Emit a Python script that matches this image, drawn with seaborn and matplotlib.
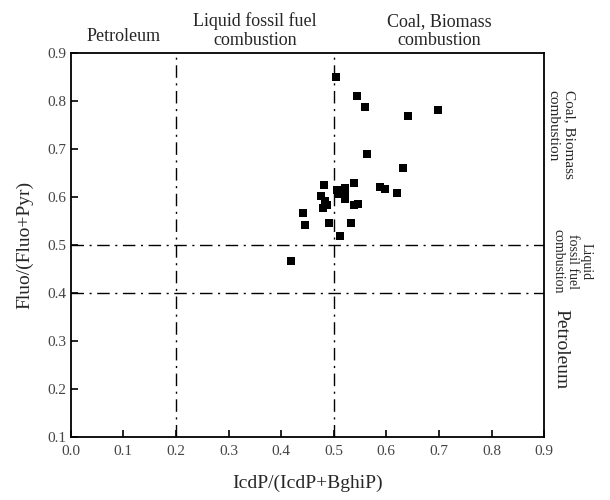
import pandas as pd
import matplotlib.pyplot as plt
import seaborn as sns

icdp_ratio = [0.505, 0.545, 0.560, 0.641, 0.698, 0.564, 0.631, 0.482, 0.538, 0.522,
              0.507, 0.588, 0.597, 0.620, 0.475, 0.508, 0.522, 0.521, 0.484, 0.488,
              0.479, 0.546, 0.538, 0.441, 0.446, 0.491, 0.532, 0.511, 0.419]
fluo_ratio = [0.848, 0.809, 0.787, 0.768, 0.780, 0.689, 0.660, 0.625, 0.629, 0.619,
              0.614, 0.621, 0.616, 0.608, 0.602, 0.605, 0.605, 0.596, 0.592, 0.583,
              0.576, 0.585, 0.583, 0.567, 0.541, 0.545, 0.546, 0.519, 0.466]

x_lines = [0.2, 0.5]
y_lines = [0.4, 0.5]
ticks = [0.0, 0.1, 0.2, 0.3, 0.4, 0.5, 0.6, 0.7, 0.8, 0.9]
yticks = [0.1, 0.2, 0.3, 0.4, 0.5, 0.6, 0.7, 0.8, 0.9]

df = pd.DataFrame({'IcdP': icdp_ratio, 'Fluo': fluo_ratio})

sns.set_style('ticks')
plt.rcParams['font.family'] = ['Liberation Serif', 'DejaVu Serif']

fig = plt.figure(figsize=(6.1, 5), dpi=100)
ax = fig.add_axes([0.116, 0.126, 0.776, 0.769])

dash = (0, (9, 4, 1.5, 4))
for xv in x_lines:
    ax.axvline(xv, color='black', lw=1, ls=dash, zorder=1)
for yv in y_lines:
    ax.axhline(yv, color='black', lw=1, ls=dash, zorder=1)

sns.scatterplot(data=df, x='IcdP', y='Fluo', marker='s', s=40, color='black',
                edgecolor='black', linewidth=0, ax=ax, zorder=3)

ax.set_xlim(0, 0.9)
ax.set_ylim(0.1, 0.9)
ax.set_xticks(ticks)
ax.set_yticks(yticks)
ax.tick_params(direction='in', length=5, width=1.2, labelsize=11, labelcolor='#444444', color='black')
ax.tick_params(axis='x', pad=6)
for sp in ax.spines.values():
    sp.set_linewidth(1.3)
    sp.set_color('black')
ax.set_xlabel('IcdP/(IcdP+BghiP)', fontsize=14, labelpad=12)
ax.set_ylabel('Fluo/(Fluo+Pyr)', fontsize=14, labelpad=10)

fs = 13
ax.text(0.1, 0.915, 'Petroleum', ha='center', va='bottom',
        fontsize=fs, clip_on=False)
ax.text(0.35, 0.907, 'Liquid fossil fuel\ncombustion', ha='center', va='bottom',
        fontsize=fs, linespacing=1.15, clip_on=False)
ax.text(0.7, 0.907, 'Coal, Biomass\ncombustion', ha='center', va='bottom',
        fontsize=fs, linespacing=1.15, clip_on=False)

ax.text(0.905, 0.73, 'Coal, Biomass\ncombustion', rotation=-90, ha='left', va='center',
        fontsize=11, linespacing=1.35, clip_on=False)
ax.text(0.914, 0.465, 'Liquid\nfossil fuel\ncombustion', rotation=-90, ha='left', va='center',
        fontsize=10, linespacing=1.12, clip_on=False, multialignment='center')
ax.text(0.916, 0.282, 'Petroleum', rotation=-90, ha='left', va='center',
        fontsize=14, clip_on=False)

fig.savefig('out.png', dpi=100)
plt.close(fig)
